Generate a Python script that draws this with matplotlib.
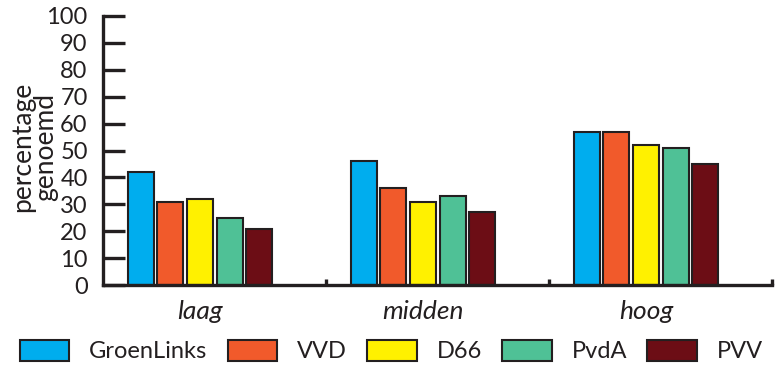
import matplotlib.pyplot as plt
import numpy as np
from matplotlib.patches import Patch

plt.rcParams['font.family'] = ['Lato', 'DejaVu Sans']

# Values.
groups = ["laag", "midden", "hoog"]
parties = ["GroenLinks", "VVD", "D66", "PvdA", "PVV"]
groenlinks = [42, 46, 57]
vvd = [31, 36, 57]
d66 = [32, 31, 52]
pvda = [25, 33, 51]
pvv = [21, 27, 45]
series = [groenlinks, vvd, d66, pvda, pvv]
colors = ["#00ADEE", "#F15A2B", "#FFF100", "#4FC196", "#6C0D15"]
edge = "#231F20"

fig = plt.figure(figsize=(7.75, 3.65), dpi=100)
ax = fig.add_axes([103 / 775, 1 - 285 / 365, 669 / 775, 269 / 365])

x = np.arange(len(groups))
step = 0.133
width = 0.117
for k, (vals, col) in enumerate(zip(series, colors)):
    ax.bar(x + (k - 2) * step, vals, width=width, color=col,
           edgecolor=edge, linewidth=1.5, zorder=2)

ax.set_xlim(-0.435, 2.565)
ax.set_ylim(0, 100)

for side in ("top", "right"):
    ax.spines[side].set_visible(False)
for side in ("left", "bottom"):
    ax.spines[side].set_linewidth(2.4)
    ax.spines[side].set_color(edge)
    ax.spines[side].set_zorder(3)

ax.set_yticks(range(0, 101, 10))
ax.tick_params(axis="y", direction="in", length=16, width=2.4, color=edge,
               pad=11, labelsize=17, labelcolor="#231F20")

ax.set_xticks(x)
ax.set_xticklabels(groups, fontstyle="italic", fontsize=19, color="#231F20")
ax.set_xticks(x + 0.565, minor=True)
ax.tick_params(axis="x", which="major", length=0, pad=11)
ax.tick_params(axis="x", which="minor", direction="in", length=4, width=2.4,
               color=edge)

fig.text(34 / 775, 1 - 147 / 365, "percentage\ngenoemd", rotation=90,
         ha="center", va="center", fontsize=19, color="#231F20",
         multialignment="center", linespacing=0.9)

handles = [Patch(facecolor=c, edgecolor=edge, linewidth=1.5, label=p)
           for p, c in zip(parties, colors)]
fig.legend(handles=handles, loc="center", bbox_to_anchor=(0.505, 0.038),
           ncol=5, frameon=False, fontsize=17, handlelength=2.1,
           handleheight=1.0, handletextpad=0.85, columnspacing=0.85,
           borderaxespad=0, labelcolor="#231F20")

fig.savefig("out.png", dpi=100)
